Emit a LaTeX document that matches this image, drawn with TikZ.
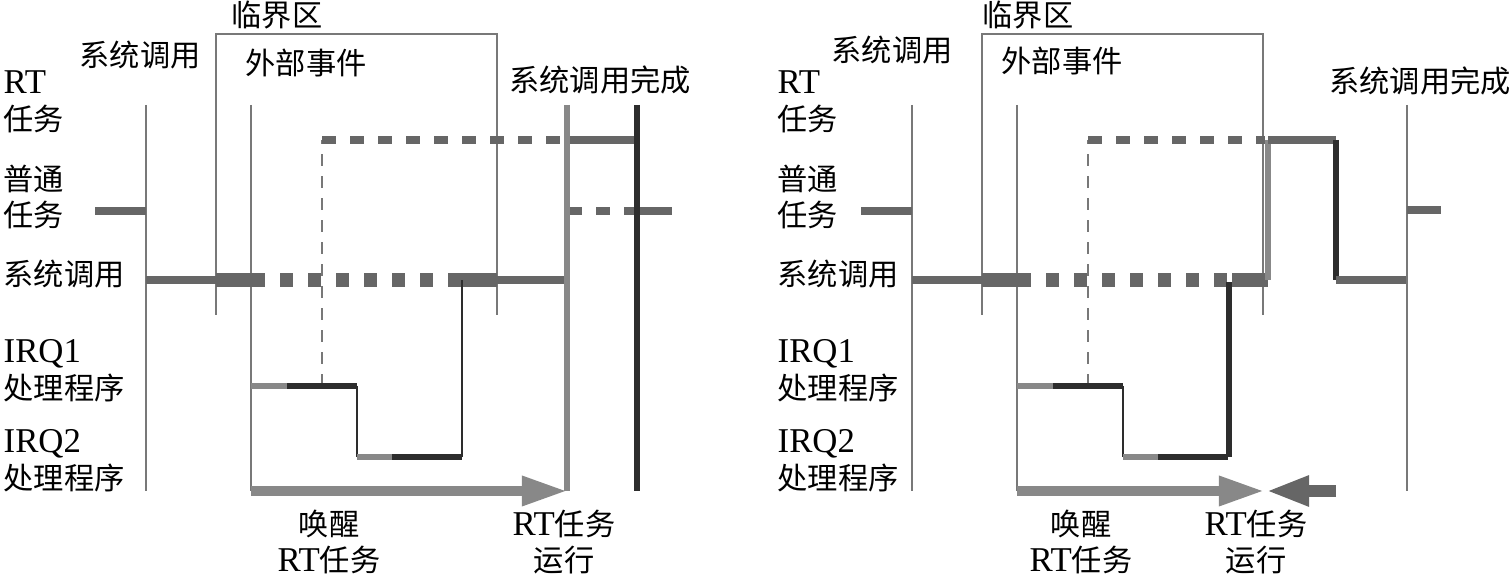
\documentclass[tikz,border=0pt]{standalone}
\usepackage{fontspec}
\setmainfont{Liberation Serif}[Scale=1.15]
\newfontfamily\cjk{Noto Sans CJK SC}
\usetikzlibrary{arrows.meta}

\definecolor{rowgray}{RGB}{102,102,102}
\definecolor{linegray}{RGB}{120,120,120}
\definecolor{lightgray}{RGB}{136,136,136}
\definecolor{darkline}{RGB}{45,45,45}

\begin{document}
\begin{tikzpicture}[
  x=0.01cm, y=-0.01cm,
  lbl/.style={font=\fontsize{8.6}{10.4}\selectfont, inner sep=0pt, align=left},
  thinline/.style={draw=linegray, line width=0.6pt},
  rowline/.style={draw=rowgray, line width=2pt},
  blockline/.style={draw=rowgray, line width=4pt},
  dashrow/.style={rowline, dash pattern=on 0.14cm off 0.14cm},
  dashblock/.style={blockline, dash pattern=on 0.13cm off 0.15cm},
  dashthin/.style={thinline, dash pattern=on 0.12cm off 0.1cm},
  irqlight/.style={draw=lightgray, line width=1.7pt},
  irqdark/.style={draw=darkline, line width=1.7pt},
  runline/.style={draw=lightgray, line width=1.5pt},
  stopline/.style={draw=darkline, line width=1.5pt},
  wake/.style={draw=lightgray, line width=2.6pt, -{Triangle[length=0.45cm, width=0.28cm]}},
  back/.style={draw=rowgray, line width=3.6pt, -{Triangle[length=0.43cm, width=0.28cm]}}
]
  \useasboundingbox (0,0) rectangle (1512,577);

  % parts shared by both panels
  \foreach \dx in {0,766} {
    \begin{scope}[shift={(\dx,0)}]
      \draw[thinline] (216,315) |- (497,34) -- (497,315);
      \draw[thinline] (146,105) -- (146,491);
      \draw[thinline] (251,105) -- (251,491);
      \draw[rowline] (95,211) -- (146,211);
      \draw[rowline] (146,280) -- (216,280);
      \draw[blockline] (216,280) -- (265,280);
      \draw[dashthin] (322,386) -- (322,140);
      \draw[irqlight] (251,386) -- (287,386);
      \draw[irqdark] (287,386) -- (357,386);
      \draw[draw=darkline, line width=0.6pt] (357,386) -- (357,457);
      \draw[irqlight] (357,457) -- (392,457);
      \draw[irqdark] (392,457) -- (462,457);
    \end{scope}
  }

  % left panel
  \node[lbl] (crit1) at (277,15) {\cjk 临界区};
  \node[lbl] (sys1) at (140,55) {\cjk 系统调用};
  \node[lbl] (ext1) at (306,63) {\cjk 外部事件};
  \node[lbl] (done1) at (600,80) {\cjk 系统调用完成};
  \node[lbl, anchor=west] (rt1) at (3,102) {RT\\{\cjk 任务}};
  \node[lbl, anchor=west] (norm1) at (3,197) {\cjk 普通\\\cjk 任务};
  \node[lbl, anchor=west] (call1) at (3,274) {\cjk 系统调用};
  \node[lbl, anchor=west] (irqa1) at (3,371) {IRQ1\\{\cjk 处理程序}};
  \node[lbl, anchor=west] (irqb1) at (3,461) {IRQ2\\{\cjk 处理程序}};
  \node[lbl, align=center] (wk1) at (329,542) {\cjk 唤醒\\RT{\cjk 任务}};
  \node[lbl, align=center] (run1) at (564,542) {RT{\cjk 任务}\\\cjk 运行};

  \draw[dashblock] (280,280) -- (434,280);
  \draw[blockline] (448,280) -- (497,280);
  \draw[rowline] (497,280) -- (567,280);
  \draw[draw=darkline, line width=0.6pt] (462,457) -- (462,280);
  \draw[dashrow] (322,140) -- (563,140);
  \draw[rowline] (567,140) -- (637,140);
  \draw[dashrow] (568,211) -- (637,211);
  \draw[rowline] (637,211) -- (672,211);
  \draw[runline] (567,105) -- (567,491);
  \draw[stopline] (637,105) -- (637,491);
  \draw[wake] (251,491) -- (567,491);

  % right panel
  \node[lbl] (crit2) at (1028,15) {\cjk 临界区};
  \node[lbl] (sys2) at (892,50) {\cjk 系统调用};
  \node[lbl] (ext2) at (1062,61) {\cjk 外部事件};
  \node[lbl] (done2) at (1420,81) {\cjk 系统调用完成};
  \node[lbl, anchor=west] (rt2) at (777,102) {RT\\{\cjk 任务}};
  \node[lbl, anchor=west] (norm2) at (777,197) {\cjk 普通\\\cjk 任务};
  \node[lbl, anchor=west] (call2) at (777,274) {\cjk 系统调用};
  \node[lbl, anchor=west] (irqa2) at (777,371) {IRQ1\\{\cjk 处理程序}};
  \node[lbl, anchor=west] (irqb2) at (777,461) {IRQ2\\{\cjk 处理程序}};
  \node[lbl, align=center] (wk2) at (1081,542) {\cjk 唤醒\\RT{\cjk 任务}};
  \node[lbl, align=center] (run2) at (1256,542) {RT{\cjk 任务}\\\cjk 运行};

  \draw[dashblock] (1046,280) -- (1228,280);
  \draw[blockline] (1232,280) -- (1268,280);
  \draw[stopline] (1229,457) -- (1229,282);
  \draw[dashrow] (1088,140) -- (1265,140);
  \draw[runline] (1268,280) -- (1268,140);
  \draw[rowline] (1268,140) -- (1336,140);
  \draw[stopline] (1336,140) -- (1336,280);
  \draw[rowline] (1336,280) -- (1407,280);
  \draw[thinline] (1407,105) -- (1407,491);
  \draw[rowline] (1407,210) -- (1441,210);
  \draw[wake] (1017,491) -- (1264,491);
  \draw[back] (1336,491) -- (1266,491);
\end{tikzpicture}
\end{document}
